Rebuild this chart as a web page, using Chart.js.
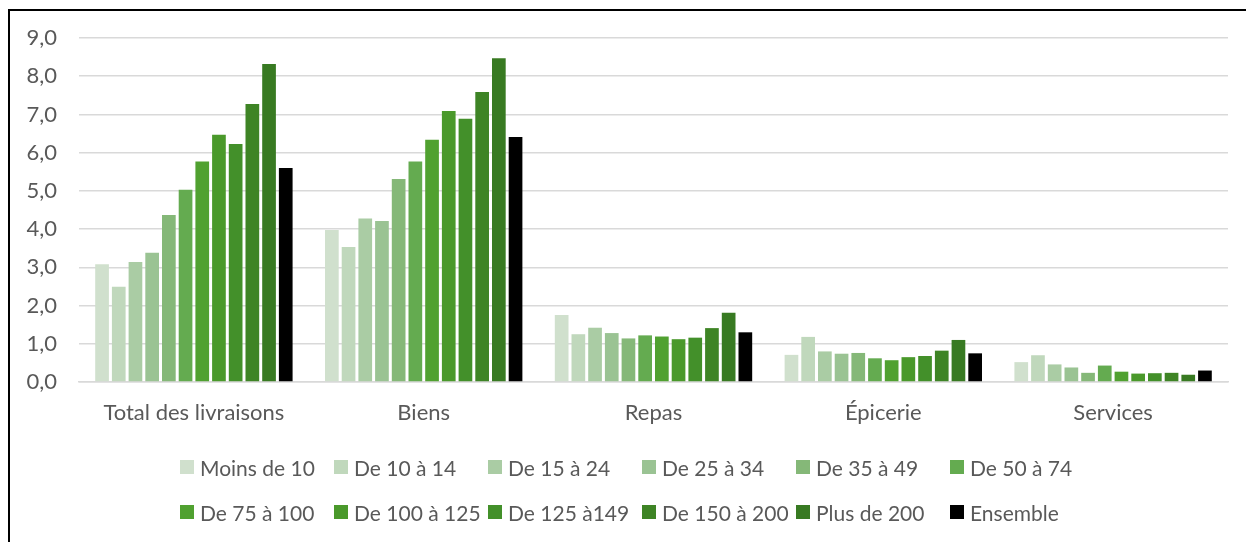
<!DOCTYPE html>
<html>
<head>
<meta charset="utf-8">
<script src="https://cdn.jsdelivr.net/npm/chart.js@4/dist/chart.umd.min.js"></script>
<style>
  html, body { margin: 0; padding: 0; background: #fff; }
  #wrap { position: relative; width: 1246px; height: 542px; overflow: hidden; font-family: Lato, "Open Sans", sans-serif; }
  #frame { position: absolute; left: 8px; top: 9px; right: -10px; bottom: -10px; border-left: 2px solid #000; border-top: 2px solid #000; pointer-events: none; }
  canvas { position: absolute; left: 0; top: 0; }
  .leg { position: absolute; display: flex; align-items: center; font-size: 21px; color: #595959; white-space: nowrap; }
  .leg i { display: inline-block; width: 14px; height: 14px; margin-right: 6px; }
</style>
</head>
<body>
<div id="wrap">
  <canvas id="c" width="1246" height="542"></canvas>
  <div id="frame"></div>
  <div id="legend"></div>
</div>
<script>
const categories = ["Total des livraisons", "Biens", "Repas", "Épicerie", "Services"];
const seriesNames = ["Moins de 10", "De 10 à 14", "De 15 à 24", "De 25 à 34", "De 35 à 49", "De 50 à 74",
                     "De 75 à 100", "De 100 à 125", "De 125 à149", "De 150 à 200", "Plus de 200", "Ensemble"];
const seriesColors = ["#d0e0cd", "#c0d8bc", "#aacca4", "#9ac393", "#85b878", "#64ab50",
                      "#50a130", "#4a992b", "#43902a", "#3e8425", "#387a22", "#000000"];
// values per series: [Total, Biens, Repas, Épicerie, Services]
const moinsDe10   = [3.08, 3.98, 1.75, 0.71, 0.52];
const de10a14     = [2.49, 3.53, 1.25, 1.18, 0.70];
const de15a24     = [3.14, 4.28, 1.42, 0.80, 0.46];
const de25a34     = [3.38, 4.21, 1.28, 0.74, 0.38];
const de35a49     = [4.37, 5.31, 1.14, 0.76, 0.24];
const de50a74     = [5.03, 5.77, 1.22, 0.62, 0.43];
const de75a100    = [5.77, 6.34, 1.19, 0.57, 0.27];
const de100a125   = [6.47, 7.09, 1.12, 0.65, 0.22];
const de125a149   = [6.23, 6.89, 1.16, 0.68, 0.23];
const de150a200   = [7.27, 7.59, 1.41, 0.82, 0.24];
const plusDe200   = [8.32, 8.47, 1.81, 1.10, 0.19];
const ensemble    = [5.60, 6.41, 1.30, 0.75, 0.30];
const seriesValues = [moinsDe10, de10a14, de15a24, de25a34, de35a49, de50a74,
                      de75a100, de100a125, de125a149, de150a200, plusDe200, ensemble];
const yTicks = [0, 1, 2, 3, 4, 5, 6, 7, 8, 9];

const fontFamily = 'Lato, "Open Sans", sans-serif';

const chart = new Chart(document.getElementById('c'), {
  type: 'bar',
  data: {
    labels: categories,
    datasets: seriesNames.map((name, i) => ({
      label: name,
      data: seriesValues[i],
      backgroundColor: seriesColors[i],
      borderWidth: 0,
      categoryPercentage: 0.872,
      barPercentage: 0.82
    }))
  },
  options: {
    responsive: false,
    animation: false,
    layout: { padding: { left: 0, right: 18, top: 38, bottom: 0 } },
    plugins: { legend: { display: false }, tooltip: { enabled: false } },
    scales: {
      x: {
        grid: { display: false, drawTicks: false },
        border: { display: true, color: '#d9d9d9', width: 1.5 },
        ticks: { color: '#595959', font: { family: fontFamily, size: 22 }, padding: 18, maxRotation: 0 },
        afterFit: s => { s.height = 160; }
      },
      y: {
        min: 0, max: 9,
        afterBuildTicks: s => { s.ticks = yTicks.map(v => ({ value: v })); },
        grid: { color: '#d9d9d9', lineWidth: 1.5, drawTicks: false },
        border: { display: false },
        ticks: {
          color: '#595959', font: { family: fontFamily, size: 22 }, padding: 22,
          callback: v => v.toFixed(1).replace('.', ',')
        },
        afterFit: s => { s.width = 79; }
      }
    }
  }
});

// HTML legend built from the chart's datasets
const legendCols = [180, 334, 488, 642, 796, 950];
const legendRows = [467, 512];
const legendEl = document.getElementById('legend');
chart.data.datasets.forEach((ds, i) => {
  const d = document.createElement('div');
  d.className = 'leg';
  d.style.left = legendCols[i % 6] + 'px';
  d.style.top = (legendRows[Math.floor(i / 6)] - 14) + 'px';
  d.style.height = '28px';
  const box = document.createElement('i');
  box.style.background = ds.backgroundColor;
  d.appendChild(box);
  d.appendChild(document.createTextNode(ds.label));
  legendEl.appendChild(d);
});
</script>
</body>
</html>
